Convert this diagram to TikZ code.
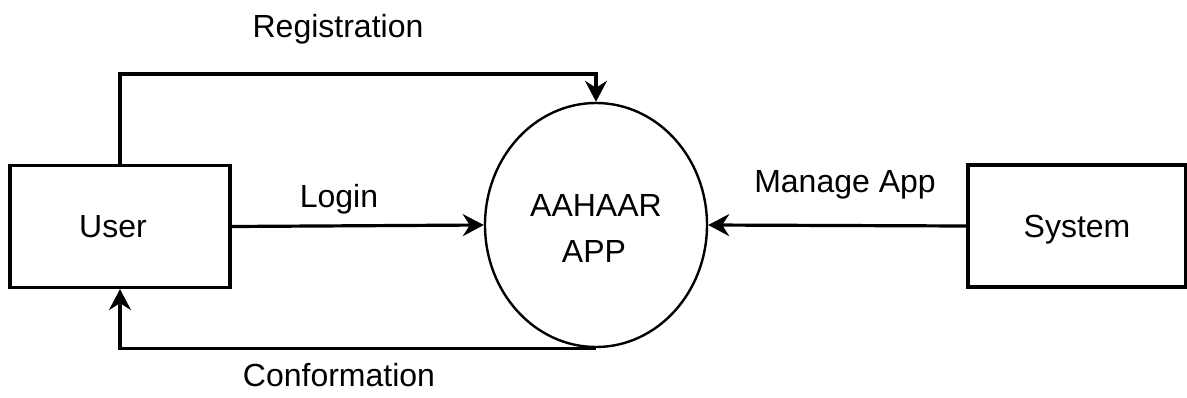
\documentclass[tikz,border=0pt]{standalone}
\usepackage{fontspec}
\setmainfont{Liberation Sans}
\usetikzlibrary{shapes.geometric,arrows.meta}
\tikzset{
  entity/.style={draw, line width=3.2pt, minimum width=220pt, minimum height=122pt, inner sep=0pt},
  process/.style={draw, ellipse, line width=2.4pt, minimum width=222pt, minimum height=244pt, inner sep=0pt, align=center},
  flow/.style={line width=3.2pt, -{Stealth[length=21pt,width=22pt,inset=7pt]}},
  lbl/.style={anchor=base, inner sep=0pt},
  every node/.style={font=\fontsize{32}{37}\selectfont, text=black}
}
\begin{document}
\begin{tikzpicture}[x=1pt,y=-1pt]
\useasboundingbox (0,0) rectangle (1187,397);
\fill[white] (0,0) rectangle (1187,397);

% external entities and the central process
\node[entity] (user) at (120,226.5) {};
\node[lbl] (usertext) at (113,237) {User};
\node[entity, minimum width=218pt] (system) at (1077,226) {};
\node[lbl] (systext) at (1077,237) {System};
\node[process] (app) at (596,225) {};
\node[lbl] (apptext1) at (596,216) {AAHAAR};
\node[lbl] (apptext2) at (594,262) {APP};

% data flows
\coordinate (regcorner) at (596,74);
\draw[flow] (user.north) |- (regcorner) -- (app.north);
\draw[flow] (user.east) -- (app.west);
\draw[flow] (system.west) -- (app.east);
\draw[flow] (app.south) -| (user.south);

% flow labels
\node[lbl] (reg) at (338,37) {Registration};
\node[lbl] (login) at (339,207) {Login};
\node[lbl] (manage) at (845,192) {Manage App};
\node[lbl] (conf) at (339,386) {Conformation};
\end{tikzpicture}
\end{document}
